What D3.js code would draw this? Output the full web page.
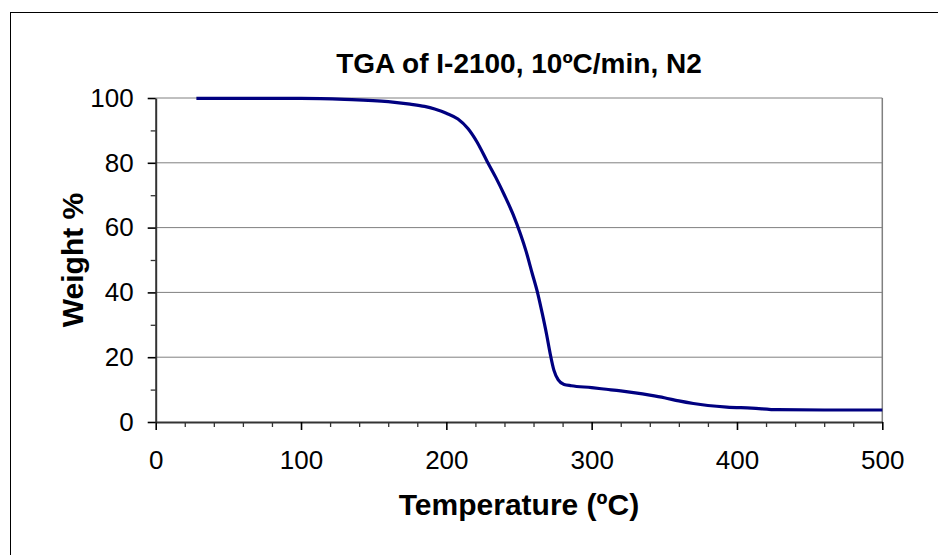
<!DOCTYPE html>
<html>
<head>
<meta charset="utf-8">
<script src="https://cdn.jsdelivr.net/npm/d3@7"></script>
<style>
    body { margin: 0; background: #fff; }
    svg { display: block; font-family: Arial, "Liberation Sans", sans-serif; }
</style>
</head>
<body>
<svg id="chart" width="938" height="555"></svg>
<script>
// Chart data
const temperature = [28, 60, 100, 130, 160, 175, 185, 192, 200, 208, 215, 221, 228, 234, 240,
    246, 251, 255, 259, 263, 266, 269, 271.5, 274, 277, 281, 286, 300, 310, 320, 330, 340,
    350, 360, 370, 380, 393, 410, 428, 460, 500];
const weight = [99.9, 99.9, 99.9, 99.6, 98.9, 98.1, 97.4, 96.6, 95.3, 93.5, 90.5, 86.5, 80.5, 75.5, 70,
    64, 58, 52.5, 46, 39.5, 33.5, 27, 21, 16, 13, 11.6, 11.2, 10.6, 10.1, 9.6, 9.0, 8.3,
    7.5, 6.5, 5.7, 5.1, 4.6, 4.3, 3.8, 3.7, 3.7];
const xTicks = [0, 100, 200, 300, 400, 500];
const yTicks = [0, 20, 40, 60, 80, 100];
const chartTitle = 'TGA of I-2100, 10ºC/min, N2';
const xTitle = 'Temperature (ºC)';
const yTitle = 'Weight %';

const svg = d3.select('#chart');

// Outer chart border
svg.append('rect')
    .attr('x', 10.5).attr('y', 12.5)
    .attr('width', 960).attr('height', 600)
    .attr('fill', 'none')
    .attr('stroke', '#000')
    .attr('stroke-width', 1);

// Plot area
const plot = { left: 155.7, right: 882.3, top: 98, bottom: 422 };

const x = d3.scaleLinear().domain([0, 500]).range([plot.left, plot.right]);
const y = d3.scaleLinear().domain([0, 100]).range([plot.bottom, plot.top]);

// Horizontal gridlines
svg.append('g')
    .selectAll('line')
    .data(yTicks.filter(d => d > 0))
    .enter()
    .append('line')
    .attr('x1', plot.left).attr('x2', plot.right)
    .attr('y1', d => y(d)).attr('y2', d => y(d))
    .attr('stroke', '#808080')
    .attr('stroke-width', 1);

// Right border of plot area
svg.append('line')
    .attr('x1', plot.right).attr('x2', plot.right)
    .attr('y1', plot.top).attr('y2', plot.bottom)
    .attr('stroke', '#808080')
    .attr('stroke-width', 1.5);

// Minor ticks
const xMinor = d3.range(0, 501, 20).filter(d => d % 100 !== 0);
const yMinor = d3.range(10, 100, 20);

svg.append('g')
    .attr('transform', `translate(0,${plot.bottom})`)
    .call(d3.axisBottom(x).tickValues(xMinor).tickSize(5).tickFormat(''))
    .call(g => g.select('.domain').remove())
    .selectAll('line').attr('stroke', '#333').attr('stroke-width', 1.3);

svg.append('g')
    .attr('transform', `translate(${plot.left},0)`)
    .call(d3.axisLeft(y).tickValues(yMinor).tickSize(5).tickFormat(''))
    .call(g => g.select('.domain').remove())
    .selectAll('line').attr('stroke', '#333').attr('stroke-width', 1.3);

// Major axes
const xAxis = svg.append('g')
    .attr('transform', `translate(0,${plot.bottom})`)
    .call(d3.axisBottom(x).tickValues(xTicks).tickSize(8).tickSizeOuter(0).tickPadding(21));

const yAxis = svg.append('g')
    .attr('transform', `translate(${plot.left},0)`)
    .call(d3.axisLeft(y).tickValues(yTicks).tickSize(8).tickSizeOuter(0).tickPadding(14));

[xAxis, yAxis].forEach(ax => {
    ax.select('.domain').attr('stroke', '#333').attr('stroke-width', 2);
    ax.selectAll('.tick line').attr('stroke', '#000').attr('stroke-width', 1.6);
    ax.selectAll('.tick text')
        .attr('fill', '#000')
        .attr('font-size', '26px')
        .attr('font-family', 'Arial, "Liberation Sans", sans-serif');
});

// Data line
const points = temperature.map((t, i) => ({ t: t, w: weight[i] }));
svg.append('path')
    .datum(points)
    .attr('fill', 'none')
    .attr('stroke', '#000080')
    .attr('stroke-width', 3.2)
    .attr('stroke-linejoin', 'round')
    .attr('d', d3.line().x(d => x(d.t)).y(d => y(d.w)).curve(d3.curveMonotoneX));

// Titles
svg.append('text')
    .attr('x', (plot.left + plot.right) / 2)
    .attr('y', 73)
    .attr('text-anchor', 'middle')
    .attr('font-size', '28px')
    .attr('font-weight', 'bold')
    .text(chartTitle);

svg.append('text')
    .attr('x', (plot.left + plot.right) / 2)
    .attr('y', 515)
    .attr('text-anchor', 'middle')
    .attr('font-size', '30px')
    .attr('font-weight', 'bold')
    .text(xTitle);

svg.append('text')
    .attr('transform', `translate(83,${(plot.top + plot.bottom) / 2}) rotate(-90)`)
    .attr('text-anchor', 'middle')
    .attr('font-size', '30px')
    .attr('font-weight', 'bold')
    .text(yTitle);
</script>
</body>
</html>
